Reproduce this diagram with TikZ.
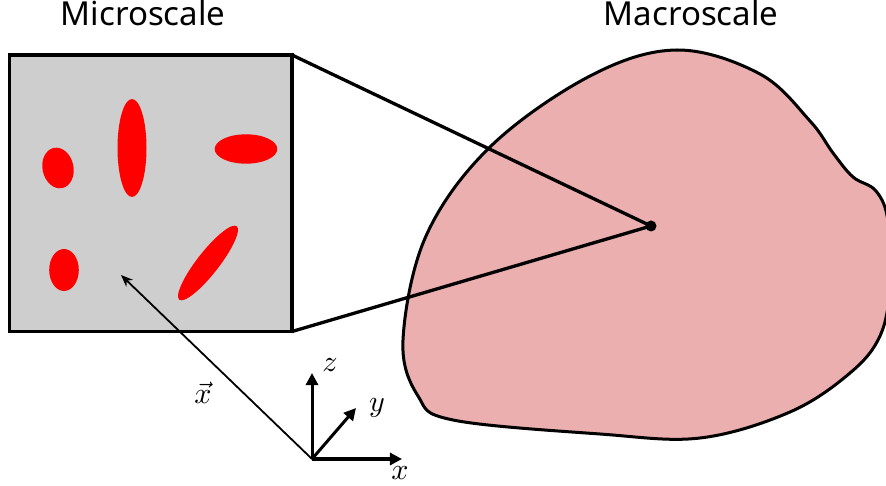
\documentclass[tikz,border=0pt]{standalone}
\usepackage{fontspec}
\newfontfamily\labelfont{Noto Sans}
\usetikzlibrary{arrows.meta}
\definecolor{cellgray}{HTML}{CECECE}
\definecolor{bodypink}{HTML}{EBAFAF}
\tikzset{
  inclusion/.style={fill=red},
  axis/.style={-{Triangle[length=4pt,width=4pt]}, line width=1pt},
  scalelabel/.style={font=\labelfont\fontsize{11}{13}\selectfont, anchor=base},
}

\begin{document}
\begin{tikzpicture}[x=0.333pt, y=0.333pt]
    \useasboundingbox (0,0) rectangle (886,486);

    % Macroscale body
    \begin{scope}
        \clip (0,0) rectangle (886,486);
        \draw[fill=bodypink, line width=1pt] plot[smooth cycle, tension=0.6] coordinates {
            (453,66) (418,90) (403,146) (426,250) (490,339)
            (590,410) (677,436) (760,412) (810,365) (833,333) (853,309)
            (876,295) (888,265) (890,200) (880,150) (850,113) (790,74)
            (700,48) (600,52)};
    \end{scope}

    % Microscale cell
    \coordinate (sqSW) at (9.5,154.5);
    \coordinate (sqNE) at (292,431);
    \coordinate (sqSE) at (292,154.5);
    \draw[fill=cellgray, line width=1.3pt] (sqSW) rectangle (sqNE);

    \fill[inclusion, rotate around={12:(58,318)}] (58,318) ellipse [x radius=15.5, y radius=20.5];
    \fill[inclusion] (132,338) ellipse [x radius=14.5, y radius=49];
    \fill[inclusion] (246,337) ellipse [x radius=31.3, y radius=14.7];
    \fill[inclusion] (64,216) ellipse [x radius=14.8, y radius=21];
    \fill[inclusion, rotate around={-38:(208,223)}] (208,223) ellipse [x radius=11, y radius=46.6];

    % Zoom lines to material point
    \coordinate (P) at (651,260);
    \draw[line width=1.1pt, line join=round] (sqNE) -- (P) -- (sqSE);
    \fill (P) circle (5.5);

    % Axes
    \coordinate (O) at (312,27);
    \coordinate (ex) at (402,27);
    \coordinate (ey) at (356,78);
    \coordinate (ez) at (312,113);
    \draw[axis] (O) -- (ex);
    \draw[axis] (O) -- (ey);
    \draw[axis] (O) -- (ez);
    \node (xlab) at (400,13) {$x$};
    \node (ylab) at (377,78) {$y$};
    \node (zlab) at (330,121) {$z$};

    % Position vector
    \coordinate (X) at (121,211);
    \draw[-{Stealth[length=4pt,width=3.2pt]}, line width=0.6pt] (O) -- (X);
    \node (xvec) at (203,93) {$\vec{x}$};

    % Titles
    \node[scalelabel] (micro) at (143,460) {Microscale};
    \node[scalelabel] (macro) at (691,460) {Macroscale};
\end{tikzpicture}
\end{document}
